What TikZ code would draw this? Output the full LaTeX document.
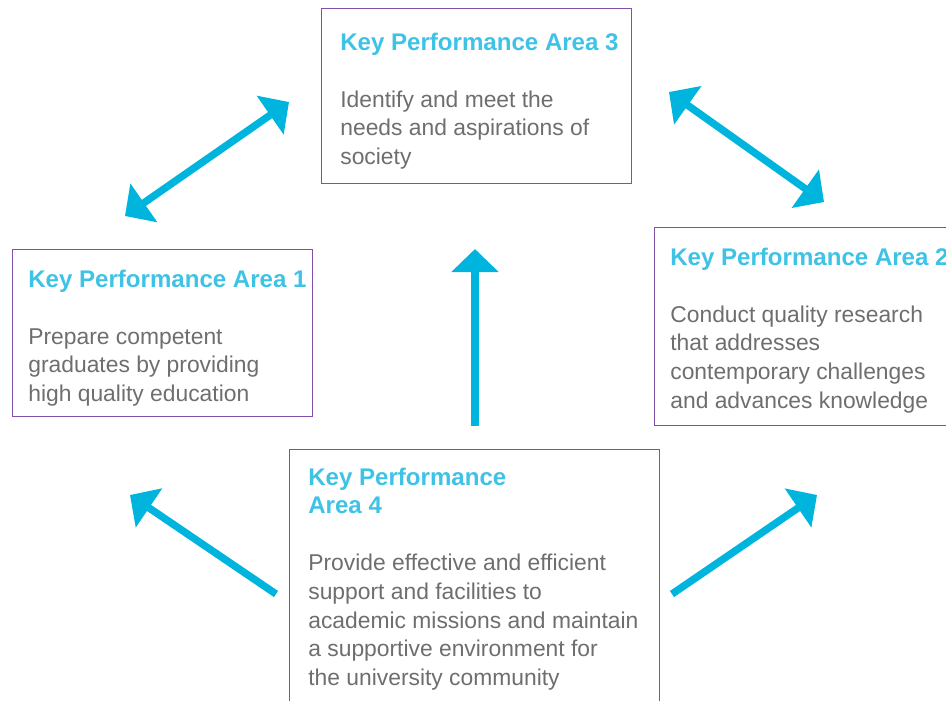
\documentclass[tikz,border=0pt]{standalone}
\usepackage{fontspec}
\setmainfont{Liberation Sans}
\usetikzlibrary{arrows.meta}

\definecolor{kpacyan}{HTML}{3EC2E5}
\definecolor{kpablue}{HTML}{00B5DD}
\definecolor{kpagray}{HTML}{6E6E70}
\definecolor{kpaborder}{HTML}{8050AA}

\begin{document}
\begin{tikzpicture}[x=0.02cm, y=-0.02cm,
    >={Triangle[length=0.46cm,width=0.92cm]},
    kpabox/.style={draw=kpaborder, line width=0.8pt, anchor=north west, inner sep=0pt},
    kpatext/.style={anchor=base west, inner sep=0pt},
    kpaarrow/.style={draw=kpablue, line width=4.2pt}]

    % Page frame, same size as the reference
    \clip (0,0) rectangle (946,700);

    % Title and body fonts used inside the boxes
    \newcommand{\kpahead}{\leavevmode\fontsize{13.7}{16.3}\selectfont\bfseries\color{kpacyan}}
    \newcommand{\kpabody}{\fontsize{13}{16.3}\selectfont\mdseries\color{kpagray}}

    % The four boxes (top, left, right, bottom)
    \node[kpabox, minimum width=6.2cm, minimum height=3.5cm] (kpa3) at (321,8) {};
    \node[kpabox, minimum width=6cm, minimum height=3.34cm] (kpa1) at (12,249) {};
    \node[kpabox, minimum width=6.4cm, minimum height=3.96cm] (kpa2) at (654,227) {};
    \node[kpabox, minimum width=7.4cm, minimum height=5.6cm] (kpa4) at (289,449) {};

    % Box texts, first baseline at the given point
    \node[kpatext] (text3) at (340,50) {\parbox[t]{8cm}{\kpahead Key Performance Area 3\\[\baselineskip]
        \kpabody Identify and meet the\\needs and aspirations of\\society}};
    \node[kpatext] (text1) at (28,287) {\parbox[t]{8cm}{\kpahead Key Performance Area 1\\[\baselineskip]
        \kpabody Prepare competent\\graduates by providing\\high quality education}};
    \node[kpatext] (text2) at (670,265) {\parbox[t]{8cm}{\kpahead Key Performance Area 2\\[\baselineskip]
        \kpabody Conduct quality research\\that addresses\\contemporary challenges\\and advances knowledge}};
    \node[kpatext] (text4) at (308,485) {\parbox[t]{8cm}{\kpahead Key Performance\\Area 4\\[\baselineskip]
        \kpabody Provide effective and efficient\\support and facilities to\\academic missions and maintain\\a supportive environment for\\the university community}};

    % Arrow end points
    \coordinate (a13s) at (125,216);
    \coordinate (a13e) at (289,102);
    \coordinate (a32s) at (669,92);
    \coordinate (a32e) at (824,202);
    \coordinate (a43s) at (475,426);
    \coordinate (a43e) at (475,249);
    \coordinate (a41s) at (276,594);
    \coordinate (a41e) at (130,495);
    \coordinate (a42s) at (672,594);
    \coordinate (a42e) at (817,495);

    % Double arrows between the upper boxes
    \draw[kpaarrow, <->] (a13s) -- (a13e);
    \draw[kpaarrow, <->] (a32s) -- (a32e);

    % Arrows leaving area 4
    \draw[kpaarrow, ->] (a43s) -- (a43e);
    \draw[kpaarrow, ->] (a41s) -- (a41e);
    \draw[kpaarrow, ->] (a42s) -- (a42e);

\end{tikzpicture}
\end{document}
